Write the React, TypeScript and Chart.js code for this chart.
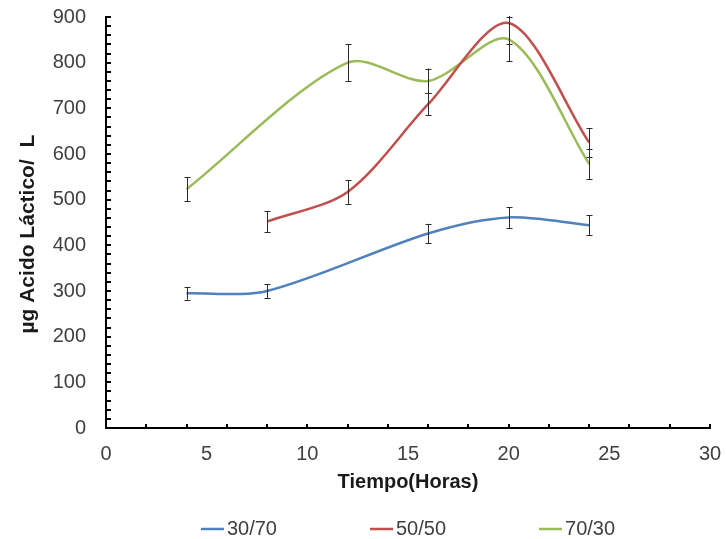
import React, { useEffect, useRef } from 'react';
import { Chart, registerables } from 'chart.js';

Chart.register(...registerables);

// ---- data ----
const hours = [4, 8, 12, 16, 20, 24];
const seriesLabels = ['30/70', '50/50', '70/30'];
const values3070: (number | null)[] = [295, 300, null, 426, 461, 444];
const errors3070: (number | null)[] = [14, 15, null, 21, 23, 22];
const values5050: (number | null)[] = [null, 452, 517, 709, 887, 625];
const errors5050: (number | null)[] = [null, 23, 26, 24, 46, 31];
const values7030: (number | null)[] = [523, null, 800, 760, 851, 578];
const errors7030: (number | null)[] = [26, null, 40, 27, 48, 33];
const seriesColors = ['#4F81BD', '#C0504D', '#9BBB59'];
const xAxisMax = 30;
const xLabelStep = 5;
const xMinorStep = 2;
const yAxisMax = 900;
const yLabelStep = 100;
const yMinorStep = 20;
const xTitle = 'Tiempo(Horas)';
const yTitle = 'µg Acido Láctico/  L';

const FONT = "'Liberation Sans', Arial, Helvetica, sans-serif";

function buildSeries(vals: (number | null)[], errs: (number | null)[]) {
  const pts: { x: number; y: number }[] = [];
  const e: number[] = [];
  hours.forEach((h, i) => {
    const v = vals[i];
    if (v !== null && v !== undefined) {
      pts.push({ x: h, y: v });
      e.push((errs[i] as number) || 0);
    }
  });
  return { pts, e };
}

const minorTicksPlugin = {
  id: 'minorTicks',
  afterDraw(chart: any) {
    const { ctx, chartArea, scales } = chart;
    const xs = scales.x;
    const ys = scales.y;
    ctx.save();
    ctx.strokeStyle = '#000';
    ctx.lineWidth = 2;
    ctx.beginPath();
    for (let v = 0; v <= xAxisMax + 1e-9; v += xMinorStep) {
      const px = Math.round(xs.getPixelForValue(v));
      ctx.moveTo(px, chartArea.bottom);
      ctx.lineTo(px, chartArea.bottom - 4);
    }
    for (let v = 0; v <= yAxisMax + 1e-9; v += yMinorStep) {
      const py = Math.round(ys.getPixelForValue(v));
      ctx.moveTo(chartArea.left, py);
      ctx.lineTo(chartArea.left + 5, py);
    }
    ctx.stroke();
    ctx.restore();
  },
};

const errorBarsPlugin = {
  id: 'errorBars',
  afterDatasetsDraw(chart: any) {
    const { ctx, chartArea, scales } = chart;
    const ys = scales.y;
    const xs = scales.x;
    ctx.save();
    ctx.beginPath();
    ctx.rect(chartArea.left, chartArea.top - 1, chartArea.right - chartArea.left, chartArea.bottom - chartArea.top + 1);
    ctx.clip();
    ctx.strokeStyle = '#2b2b2b';
    ctx.lineWidth = 1;
    chart.data.datasets.forEach((ds: any) => {
      const errs: number[] = ds.errors || [];
      ds.data.forEach((p: any, i: number) => {
        const e = errs[i];
        if (!e) return;
        const px = Math.round(xs.getPixelForValue(p.x)) + 0.5;
        const yTop = ys.getPixelForValue(p.y + e);
        const yBot = ys.getPixelForValue(p.y - e);
        ctx.beginPath();
        ctx.moveTo(px, yTop);
        ctx.lineTo(px, yBot);
        ctx.moveTo(px - 3, Math.round(yTop) + 0.5);
        ctx.lineTo(px + 3, Math.round(yTop) + 0.5);
        ctx.moveTo(px - 3, Math.round(yBot) + 0.5);
        ctx.lineTo(px + 3, Math.round(yBot) + 0.5);
        ctx.stroke();
      });
    });
    ctx.restore();
  },
};

const bottomLegendPlugin = {
  id: 'bottomLegend',
  afterDraw(chart: any) {
    const { ctx, chartArea } = chart;
    const lineLen = 23;
    const textGap = 3;
    const itemGap = 93;
    ctx.save();
    ctx.font = `20px ${FONT}`;
    ctx.textBaseline = 'middle';
    ctx.textAlign = 'left';
    const items = chart.data.datasets.map((ds: any) => ({
      label: ds.label as string,
      color: ds.borderColor as string,
      w: lineLen + textGap + ctx.measureText(ds.label).width,
    }));
    const total = items.reduce((s: number, it: any) => s + it.w, 0) + itemGap * (items.length - 1);
    let x = (chartArea.left + chartArea.right) / 2 - total / 2;
    const y = 529;
    items.forEach((it: any) => {
      ctx.strokeStyle = it.color;
      ctx.lineWidth = 2.5;
      ctx.beginPath();
      ctx.moveTo(x, y);
      ctx.lineTo(x + lineLen, y);
      ctx.stroke();
      ctx.fillStyle = '#404040';
      ctx.fillText(it.label, x + lineLen + textGap, y);
      x += it.w + itemGap;
    });
    ctx.restore();
  },
};

export default function App() {
  const canvasRef = useRef<HTMLCanvasElement | null>(null);

  useEffect(() => {
    if (!canvasRef.current) return;
    const s1 = buildSeries(values3070, errors3070);
    const s2 = buildSeries(values5050, errors5050);
    const s3 = buildSeries(values7030, errors7030);
    const all = [s1, s2, s3];

    const chart = new Chart(canvasRef.current, {
      type: 'line',
      data: {
        datasets: all.map((s, i) => ({
          label: seriesLabels[i],
          data: s.pts,
          errors: s.e,
          borderColor: seriesColors[i],
          backgroundColor: seriesColors[i],
          borderWidth: 2.5,
          pointRadius: 0,
          pointHoverRadius: 0,
          tension: 0.3,
          fill: false,
        })) as any,
      },
      options: {
        responsive: false,
        animation: false,
        devicePixelRatio: 1,
        layout: { padding: { top: 17, right: 16, bottom: 0, left: 0 } },
        plugins: {
          legend: { display: false },
          tooltip: { enabled: false },
        },
        scales: {
          x: {
            type: 'linear',
            min: 0,
            max: xAxisMax,
            ticks: {
              stepSize: xLabelStep,
              font: { family: FONT, size: 20 },
              color: '#404040',
              padding: 14,
              maxRotation: 0,
            },
            grid: { display: false, drawTicks: false },
            border: { display: true, color: '#000', width: 2 },
            title: {
              display: true,
              text: xTitle,
              color: '#1a1a1a',
              font: { family: FONT, size: 20, weight: 'bold' },
              padding: { top: 0, bottom: 45 },
            },
            afterFit: (s: any) => {
              s.height = 111;
              s.paddingLeft = 0;
              s.paddingRight = 0;
              s.paddingTop = 0;
              s.paddingBottom = 0;
            },
          },
          y: {
            type: 'linear',
            min: 0,
            max: yAxisMax,
            ticks: {
              stepSize: yLabelStep,
              font: { family: FONT, size: 20 },
              color: '#404040',
              padding: 20,
            },
            grid: { display: false, drawTicks: false },
            border: { display: true, color: '#000', width: 2 },
            title: {
              display: true,
              text: yTitle + '\u00a0\u00a0\u00a0\u00a0',
              color: '#1a1a1a',
              font: { family: FONT, size: 21, weight: 'bold' },
              padding: { top: 16, bottom: 0 },
            },
            afterFit: (s: any) => {
              s.width = 106;
              s.paddingLeft = 0;
              s.paddingRight = 0;
              s.paddingTop = 0;
              s.paddingBottom = 0;
            },
          },
        },
      } as any,
      plugins: [errorBarsPlugin, minorTicksPlugin, bottomLegendPlugin],
    });

    return () => {
      chart.destroy();
    };
  }, []);

  return (
    <div style={{ position: 'absolute', left: 0, top: 0, width: 726, height: 539, background: '#fff' }}>
      <canvas ref={canvasRef} width={726} height={539} style={{ display: 'block' }} />
    </div>
  );
}
